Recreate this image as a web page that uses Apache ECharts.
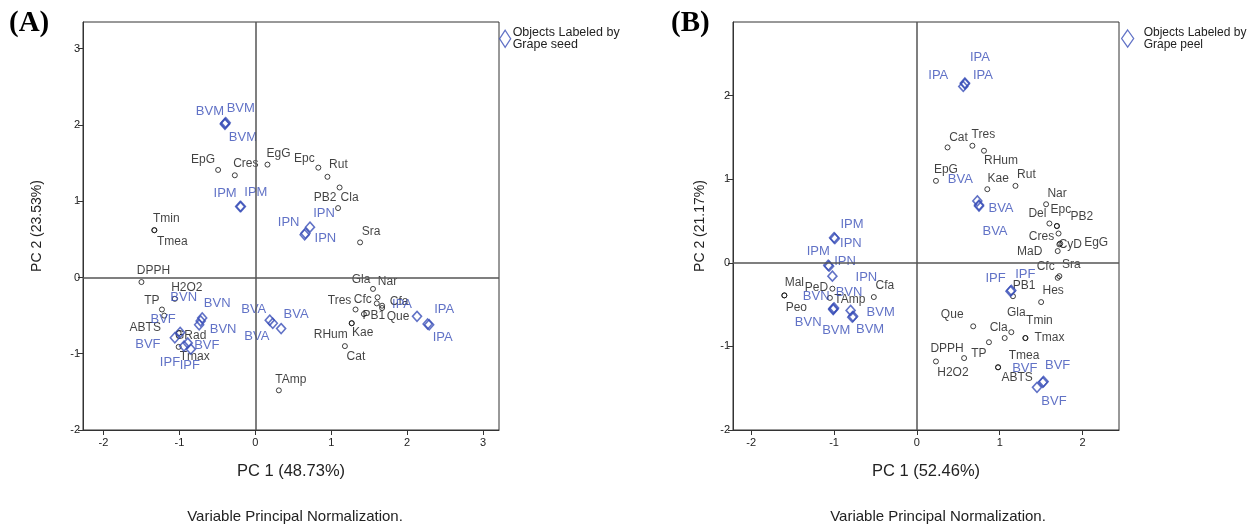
<!DOCTYPE html>
<html><head><meta charset="utf-8">
<script src="https://cdn.jsdelivr.net/npm/echarts@6/dist/echarts.min.js"></script>
<style>html,body{margin:0;padding:0;background:#fff}#c{width:1250px;height:524px}</style>
</head><body><div id="c"></div>
<script>
// ---------- Panel A: Grape seed ----------
const seedVarNames = ['EpG','Cres','EgG','Epc','Rut','Cla','PB2','Tmin','Tmea','Sra','DPPH','H2O2','TP','ABTS','GRad','Tmax','TAmp','Gla','Nar','Cfc','Cfa','Que','Tres','PB1','RHum','Kae','Cat'];
const seedVarX = [-0.49,-0.27,0.16,0.83,0.95,1.11,1.09,-1.33,-1.33,1.38,-1.50,-1.06,-1.23,-1.20,-1.01,-1.01,0.31,1.55,1.61,1.60,1.67,1.67,1.32,1.43,1.27,1.27,1.18];
const seedVarY = [1.41,1.34,1.48,1.44,1.32,1.18,0.91,0.62,0.62,0.46,-0.06,-0.28,-0.42,-0.50,-0.73,-0.91,-1.48,-0.15,-0.26,-0.34,-0.37,-0.40,-0.42,-0.48,-0.60,-0.60,-0.90];
const seedObjNames = ['BVM','BVM','BVM','IPM','IPM','IPN','IPN','IPN','BVN','BVN','BVN','BVF','BVF','BVF','IPF','IPF','BVA','BVA','BVA','IPA','IPA','IPA'];
const seedObjX = [-0.40,-0.39,-0.40,-0.20,-0.19,0.72,0.65,0.66,-0.70,-0.74,-0.72,-0.99,-1.06,-0.85,-0.89,-0.94,0.19,0.23,0.34,2.13,2.29,2.27];
const seedObjY = [2.02,2.03,2.01,0.93,0.93,0.66,0.56,0.58,-0.53,-0.62,-0.57,-0.72,-0.79,-0.94,-0.86,-0.90,-0.56,-0.60,-0.67,-0.51,-0.62,-0.61];
const seedXTicks = [-2,-1,0,1,2,3];
const seedYTicks = [-2,-1,0,1,2,3];

// ---------- Panel B: Grape peel ----------
const peelVarNames = ['Cat','Tres','RHum','EpG','Kae','Rut','Nar','Del','Epc','PB2','Cres','CyD','EgG','MaD','Sra','Cfc','PB1','Hes','Que','Gla','Tmin','Tmax','Cla','TP','DPPH','H2O2','Tmea','ABTS','Mal','Peo','PeD','TAmp','Cfa'];
const peelVarX = [0.37,0.67,0.81,0.23,0.85,1.19,1.56,1.60,1.69,1.69,1.71,1.72,1.73,1.70,1.72,1.70,1.16,1.50,0.68,1.14,1.31,1.31,1.06,0.87,0.57,0.23,0.98,0.98,-1.60,-1.60,-1.02,-1.05,-0.52];
const peelVarY = [1.38,1.40,1.34,0.98,0.88,0.92,0.70,0.47,0.44,0.44,0.35,0.22,0.23,0.14,-0.16,-0.18,-0.40,-0.47,-0.76,-0.83,-0.90,-0.90,-0.90,-0.95,-1.14,-1.18,-1.25,-1.25,-0.39,-0.39,-0.31,-0.42,-0.41];
const peelObjNames = ['IPA','IPA','IPA','IPM','IPM','IPN','IPN','IPN','BVN','BVN','BVN','BVM','BVM','BVM','BVA','BVA','BVA','IPF','IPF','BVF','BVF','BVF'];
const peelObjX = [0.56,0.58,0.58,-1.00,-1.07,-0.99,-1.06,-1.02,-1.01,-1.00,-1.01,-0.80,-0.78,-0.77,0.73,0.75,0.75,1.13,1.14,1.45,1.52,1.53];
const peelObjY = [2.11,2.15,2.14,0.30,-0.03,0.29,-0.04,-0.16,-0.55,-0.54,-0.56,-0.57,-0.65,-0.64,0.74,0.68,0.69,-0.34,-0.33,-1.49,-1.43,-1.42];
const peelXTicks = [-2,-1,0,1,2];
const peelYTicks = [-2,-1,0,1,2];

// ---------- label placement (styling only) ----------
const seedVarLabelOff = [[-15,-10],[11,-12],[11,-11],[-14,-9],[11,-12],[10,10],[-13,-10],[12,-12],[18,11],[11,-11],[12,-11],[12,-11],[-10,-9],[-19,12],[12,3],[16,10],[12,-11],[-12,-9],[10,-16],[-14,-4],[17,-4],[16,9],[-16,-9],[10,2],[-21,11],[11,9],[11,11]];
const seedObjLabelOff = [[-15,-12],[15,-14],[18,13],[-15,-13],[15,-14],[14,-14],[-16,-12],[20,5],[15,-14],[24,5],[-17,-24],[-17,-13],[-27,7],[16,-4],[2,22],[-14,16],[-16,-11],[-16,13],[15,-14],[-15,-12],[15,-15],[15,13]];
const peelVarLabelOff = [[11,-10],[11,-11],[17,10],[10,-11],[11,-11],[11,-11],[11,-11],[-12,-10],[4,-16],[25,-9],[-17,3],[11,0],[36,-1],[-28,1],[12,-11],[-12,-11],[11,-11],[12,-11],[-21,-12],[5,-19],[14,-17],[24,0],[-6,-10],[-10,11],[-17,-9],[17,11],[26,-12],[19,10],[10,-13],[12,12],[-16,-1],[20,2],[11,-11]];
const peelObjLabelOff = [[-25,-11],[15,-26],[18,-8],[18,-13],[-10,-14],[16,5],[16,-5],[34,1],[-17,-12],[15,-16],[-25,13],[30,2],[-16,13],[17,13],[-17,-21],[22,2],[16,26],[-15,-13],[14,-16],[17,14],[-18,-14],[14,-16]];

const BLUE = '#3a4fb8';
const FONT = '"Liberation Sans", Arial, sans-serif';

function pts(names, xs, ys, offs) {
  return names.map((n, i) => ({ name: n, value: [xs[i], ys[i]], label: { offset: offs[i] } }));
}

function xAxisCfg(gi, min, max, ticks, name) {
  return {
    gridIndex: gi, type: 'value', min: min, max: max,
    splitLine: { show: false },
    axisLine: { show: true, onZero: false, lineStyle: { color: '#333', width: 1 } },
    axisTick: { show: true, length: 5, customValues: ticks, lineStyle: { color: '#333', width: 1 } },
    axisLabel: { customValues: ticks, fontSize: 11, color: '#222', margin: 7, fontFamily: FONT },
    name: name, nameLocation: 'middle', nameGap: 33,
    nameTextStyle: { fontSize: 16.5, color: '#222', fontFamily: FONT }
  };
}
function yAxisCfg(gi, min, max, ticks, name, gap) {
  return {
    gridIndex: gi, type: 'value', min: min, max: max,
    splitLine: { show: false },
    axisLine: { show: true, onZero: false, lineStyle: { color: '#333', width: 1 } },
    axisTick: { show: true, length: 5, customValues: ticks, lineStyle: { color: '#333', width: 1 } },
    axisLabel: { customValues: ticks, fontSize: 11, color: '#222', margin: 3, fontFamily: FONT },
    name: name, nameLocation: 'middle', nameGap: gap, nameRotate: 90,
    nameTextStyle: { fontSize: 14, color: '#222', fontFamily: FONT }
  };
}

function varSeries(gi, data) {
  return {
    type: 'scatter', xAxisIndex: gi, yAxisIndex: gi, data: data,
    symbol: 'circle', symbolSize: 5,
    itemStyle: { color: 'rgba(0,0,0,0)', borderColor: '#111', borderWidth: 1 },
    label: { show: true, position: 'inside', formatter: '{b}', color: '#111', fontSize: 12, fontFamily: FONT },
    emphasis: { disabled: true }, silent: true, z: 3,
    markLine: {
      silent: true, symbol: ['none', 'none'], label: { show: false }, animation: false,
      lineStyle: { color: '#555', width: 1.5, type: 'solid' }, emphasis: { disabled: true },
      data: [{ xAxis: 0 }, { yAxis: 0 }]
    }
  };
}
function objSeries(gi, name, data) {
  return {
    type: 'scatter', name: name, xAxisIndex: gi, yAxisIndex: gi, data: data,
    symbol: 'diamond', symbolSize: [9, 10],
    itemStyle: { color: 'rgba(0,0,0,0)', borderColor: BLUE, borderWidth: 1.6 },
    label: { show: true, position: 'inside', formatter: '{b}', color: BLUE, fontSize: 13, fontFamily: FONT },
    emphasis: { disabled: true }, silent: true, z: 4
  };
}

const chart = echarts.init(document.getElementById('c'), null, { renderer: 'canvas' });
chart.setOption({
  animation: false,
  backgroundColor: '#fff',
  grid: [
    { left: 83, top: 22, width: 416, height: 408, show: true, borderColor: '#333', borderWidth: 1 },
    { left: 733, top: 22, width: 386, height: 408, show: true, borderColor: '#333', borderWidth: 1 }
  ],
  xAxis: [
    xAxisCfg(0, -2.27, 3.21, seedXTicks, 'PC 1 (48.73%)'),
    xAxisCfg(1, -2.22, 2.44, peelXTicks, 'PC 1 (52.46%)')
  ],
  yAxis: [
    yAxisCfg(0, -2, 3.35, seedYTicks, 'PC 2 (23.53%)', 39),
    yAxisCfg(1, -2, 2.88, peelYTicks, 'PC 2 (21.17%)', 26)
  ],
  legend: [
    {
      data: ['Grape seed'], left: 499, top: 26, padding: 0, icon: 'diamond', itemWidth: 11, itemHeight: 17,
      selectedMode: false, formatter: () => 'Objects Labeled by\nGrape seed',
      itemStyle: { color: 'rgba(0,0,0,0)', borderColor: BLUE, borderWidth: 1.3 },
      textStyle: { fontSize: 12.5, lineHeight: 12.5, color: '#222', fontFamily: FONT, padding: [0, 0, 0, -3] }
    },
    {
      data: ['Grape peel'], left: 1121, top: 26, padding: 0, icon: 'diamond', itemWidth: 12, itemHeight: 17,
      selectedMode: false, formatter: () => 'Objects Labeled by\nGrape peel',
      itemStyle: { color: 'rgba(0,0,0,0)', borderColor: BLUE, borderWidth: 1.3 },
      textStyle: { fontSize: 12, lineHeight: 12.5, color: '#222', fontFamily: FONT, padding: [0, 0, 0, 5] }
    }
  ],
  graphic: [
    { type: 'text', left: 9, top: 9, style: { text: '(A)', font: 'bold 29px "Liberation Serif", "Times New Roman", serif', fill: '#000' } },
    { type: 'text', left: 671, top: 9, style: { text: '(B)', font: 'bold 29px "Liberation Serif", "Times New Roman", serif', fill: '#000' } },
    { type: 'text', x: 295, y: 517, style: { text: 'Variable Principal Normalization.', font: '15px ' + FONT, fill: '#222', textAlign: 'center', textVerticalAlign: 'middle' } },
    { type: 'text', x: 938, y: 517, style: { text: 'Variable Principal Normalization.', font: '15px ' + FONT, fill: '#222', textAlign: 'center', textVerticalAlign: 'middle' } }
  ],
  series: [
    varSeries(0, pts(seedVarNames, seedVarX, seedVarY, seedVarLabelOff)),
    objSeries(0, 'Grape seed', pts(seedObjNames, seedObjX, seedObjY, seedObjLabelOff)),
    varSeries(1, pts(peelVarNames, peelVarX, peelVarY, peelVarLabelOff)),
    objSeries(1, 'Grape peel', pts(peelObjNames, peelObjX, peelObjY, peelObjLabelOff))
  ]
});
</script>
</body></html>
